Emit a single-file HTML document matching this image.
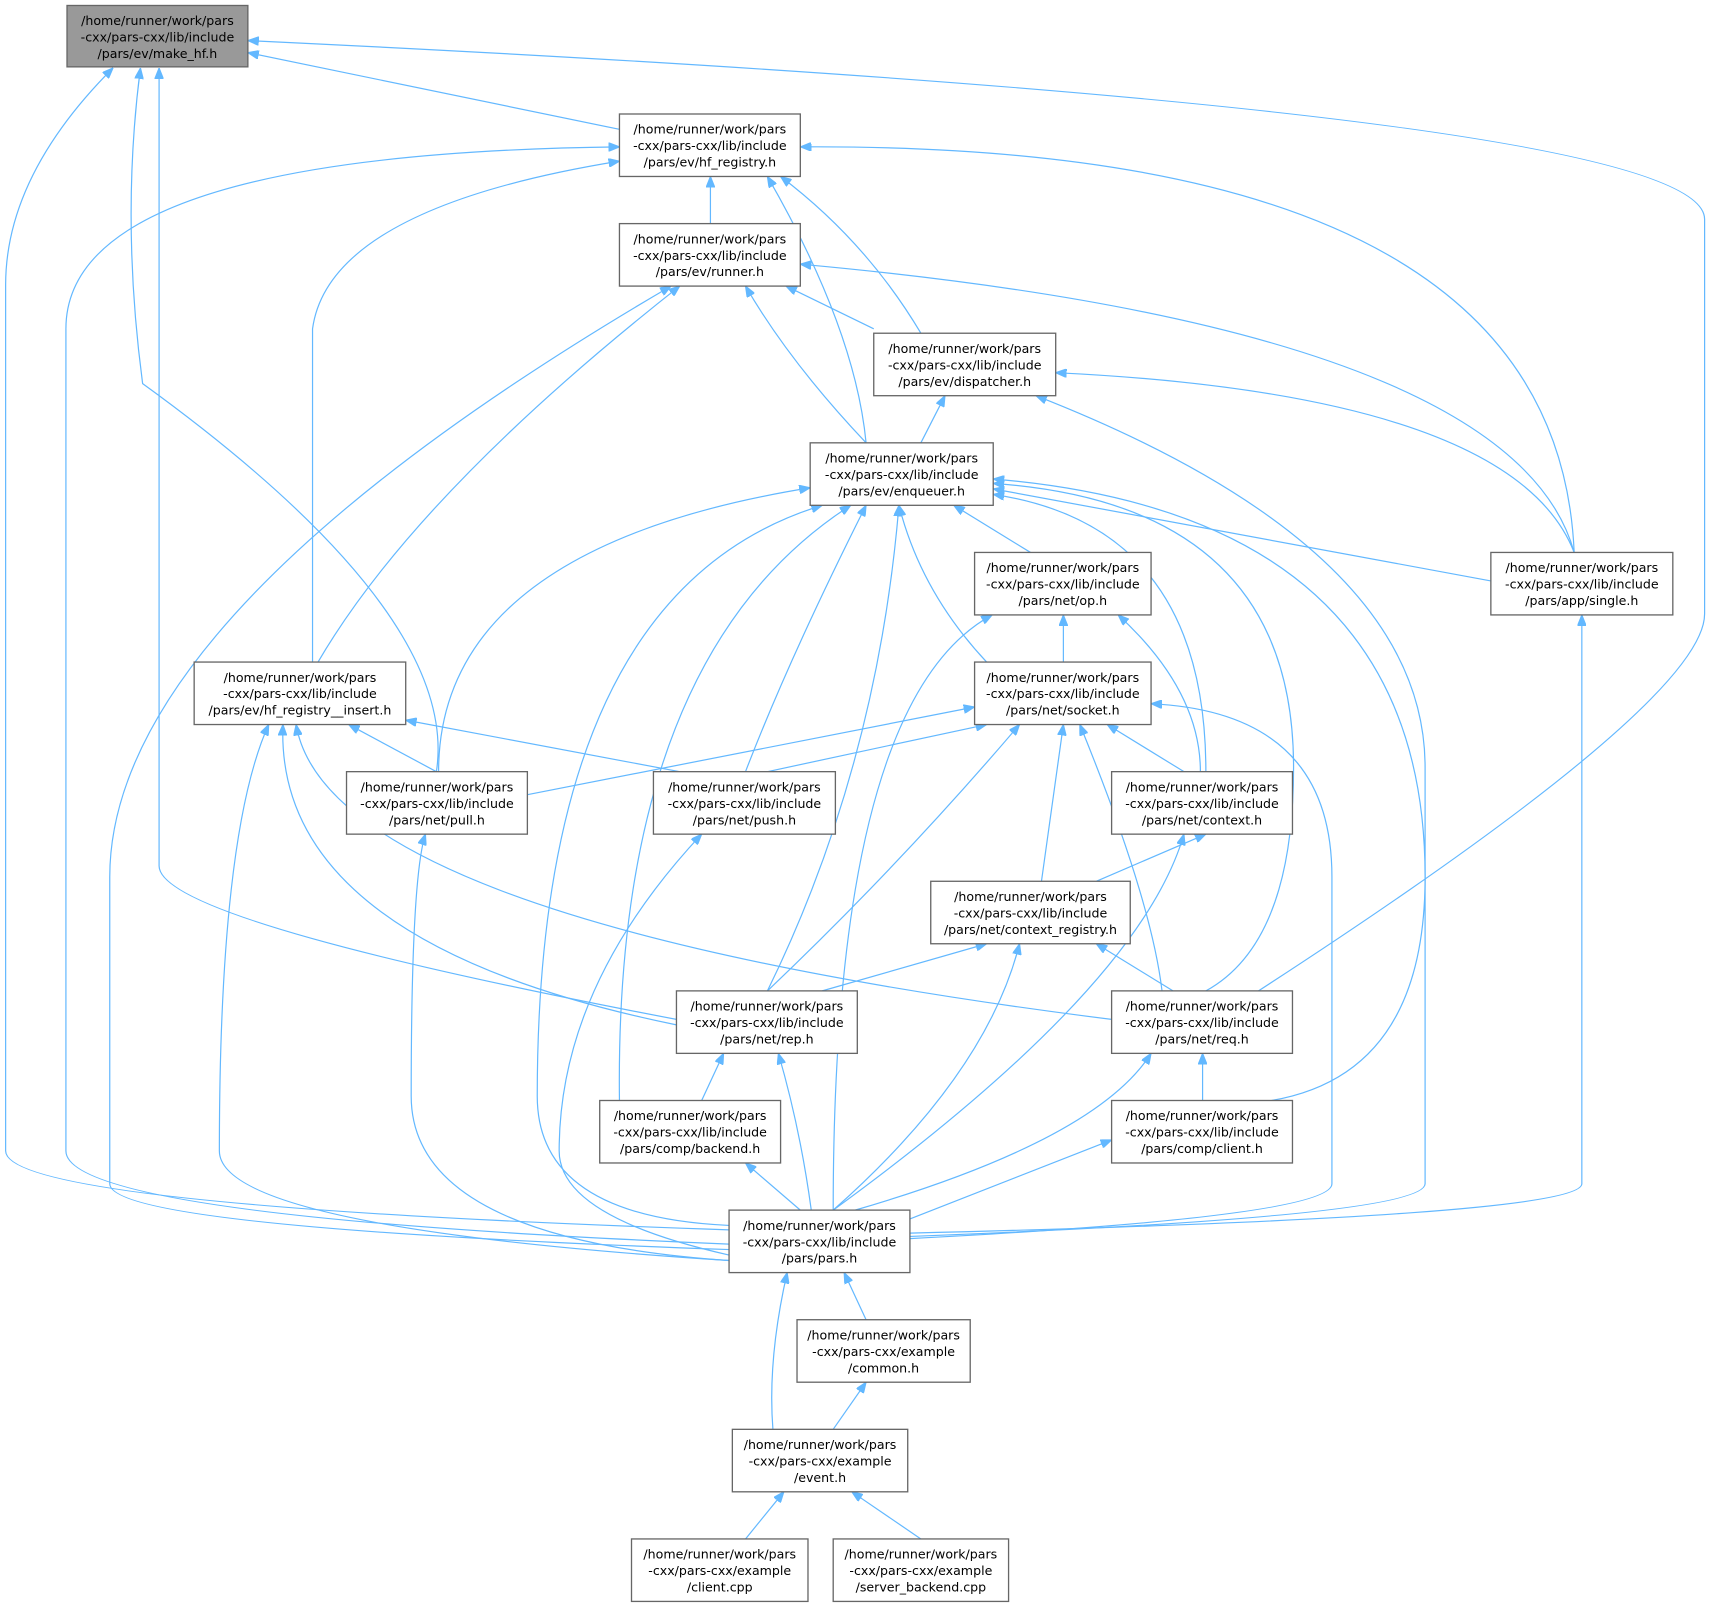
<!DOCTYPE html>
<html><head><meta charset="utf-8"><style>
html,body{margin:0;padding:0;background:#fff}
svg{display:block}
text{font-family:"DejaVu Sans","Liberation Sans",sans-serif;font-size:11.5px;fill:#000}
.b{fill:#fff;stroke:#666;stroke-width:1.2}
.e{fill:none;stroke:#63b8ff;stroke-width:1.1}
</style></head><body>
<svg width="1719" height="1608" viewBox="0 0 1568 1467" xmlns="http://www.w3.org/2000/svg">
<defs><marker id="a" viewBox="0 0 10 8" refX="0" refY="4" markerWidth="10" markerHeight="8" markerUnits="userSpaceOnUse" orient="auto"><path d="M10,0 L0,4 L10,8 z" fill="#63b8ff" stroke="#63b8ff"/></marker></defs>
<g marker-start="url(#a)">
<path class="e" marker-start="url(#a)" d="M226,48 L565,118"/>
<path class="e" marker-start="url(#a)" d="M226,37 Q1555,100 1555,200 L1555,560 Q1555,640 1148,904"/>
<path class="e" marker-start="url(#a)" d="M103,62 Q5,160 5,260 L5,1050 Q5,1100 665,1122"/>
<path class="e" marker-start="url(#a)" d="M128,62 Q110,200 130,350 Q420,560 398,704"/>
<path class="e" marker-start="url(#a)" d="M145,62 L145,790 Q145,840 617,930"/>
<path class="e" marker-start="url(#a)" d="M648,161 L648,204"/>
<path class="e" marker-start="url(#a)" d="M712,161 Q790,220 840,304"/>
<path class="e" marker-start="url(#a)" d="M700,161 Q780,300 790,404"/>
<path class="e" marker-start="url(#a)" d="M730,134 Q1420,130 1436,504"/>
<path class="e" marker-start="url(#a)" d="M565,134 Q60,140 60,300 L60,1050 Q60,1110 665,1135"/>
<path class="e" marker-start="url(#a)" d="M565,147 Q300,190 285,300 L285,604"/>
<path class="e" marker-start="url(#a)" d="M717,261 L797,300"/>
<path class="e" marker-start="url(#a)" d="M680,261 Q720,330 790,404"/>
<path class="e" marker-start="url(#a)" d="M730,241 Q1380,300 1436,504"/>
<path class="e" marker-start="url(#a)" d="M612,261 Q100,560 100,800 L100,1080 Q100,1120 665,1140"/>
<path class="e" marker-start="url(#a)" d="M620,261 Q380,450 290,604"/>
<path class="e" marker-start="url(#a)" d="M862,361 L840,404"/>
<path class="e" marker-start="url(#a)" d="M963,340 Q1380,360 1436,504"/>
<path class="e" marker-start="url(#a)" d="M945,361 Q1300,500 1300,700 L1300,1080 Q1300,1110 830,1128"/>
<path class="e" marker-start="url(#a)" d="M870,461 L940,504"/>
<path class="e" marker-start="url(#a)" d="M906,446 L1360,530"/>
<path class="e" marker-start="url(#a)" d="M820,461 Q840,540 900,604"/>
<path class="e" marker-start="url(#a)" d="M906,451 Q1100,480 1100,704"/>
<path class="e" marker-start="url(#a)" d="M906,441 Q1180,460 1180,700 Q1180,860 1100,904"/>
<path class="e" marker-start="url(#a)" d="M906,437 Q1300,470 1300,800 Q1300,980 1160,1004"/>
<path class="e" marker-start="url(#a)" d="M739,445 Q400,500 400,704"/>
<path class="e" marker-start="url(#a)" d="M790,461 Q720,600 680,704"/>
<path class="e" marker-start="url(#a)" d="M820,461 Q800,700 700,904"/>
<path class="e" marker-start="url(#a)" d="M776,461 Q560,600 565,1004"/>
<path class="e" marker-start="url(#a)" d="M750,461 Q490,540 490,1000 Q490,1110 665,1118"/>
<path class="e" marker-start="url(#a)" d="M970,561 L970,604"/>
<path class="e" marker-start="url(#a)" d="M1020,561 Q1095,630 1095,704"/>
<path class="e" marker-start="url(#a)" d="M905,561 Q760,640 760,1104"/>
<path class="e" marker-start="url(#a)" d="M1443,561 L1443,1080 Q1443,1110 830,1125"/>
<path class="e" marker-start="url(#a)" d="M318,661 L398,704"/>
<path class="e" marker-start="url(#a)" d="M370,657 L620,704"/>
<path class="e" marker-start="url(#a)" d="M270,661 Q300,840 1014,930"/>
<path class="e" marker-start="url(#a)" d="M258,661 Q250,860 617,935"/>
<path class="e" marker-start="url(#a)" d="M245,661 Q200,760 200,1050 Q200,1120 665,1150"/>
<path class="e" marker-start="url(#a)" d="M889,645 L481,725"/>
<path class="e" marker-start="url(#a)" d="M900,661 L700,704"/>
<path class="e" marker-start="url(#a)" d="M1010,661 L1080,704"/>
<path class="e" marker-start="url(#a)" d="M970,661 L950,804"/>
<path class="e" marker-start="url(#a)" d="M930,661 Q820,790 700,904"/>
<path class="e" marker-start="url(#a)" d="M985,661 Q1050,820 1060,904"/>
<path class="e" marker-start="url(#a)" d="M1050,642 Q1215,650 1215,800 L1215,1080 Q1215,1110 830,1130"/>
<path class="e" marker-start="url(#a)" d="M388,761 Q375,800 375,1000 Q375,1130 665,1150"/>
<path class="e" marker-start="url(#a)" d="M640,761 Q510,900 510,1050 Q510,1110 665,1145"/>
<path class="e" marker-start="url(#a)" d="M1100,761 L1000,804"/>
<path class="e" marker-start="url(#a)" d="M1080,761 Q1040,900 760,1104"/>
<path class="e" marker-start="url(#a)" d="M900,861 L750,904"/>
<path class="e" marker-start="url(#a)" d="M1000,861 L1070,904"/>
<path class="e" marker-start="url(#a)" d="M930,861 Q900,980 760,1104"/>
<path class="e" marker-start="url(#a)" d="M660,961 L640,1004"/>
<path class="e" marker-start="url(#a)" d="M710,961 Q730,1030 740,1104"/>
<path class="e" marker-start="url(#a)" d="M1097,961 L1097,1004"/>
<path class="e" marker-start="url(#a)" d="M1050,961 Q1000,1040 780,1104"/>
<path class="e" marker-start="url(#a)" d="M680,1061 L730,1104"/>
<path class="e" marker-start="url(#a)" d="M1014,1040 L830,1112"/>
<path class="e" marker-start="url(#a)" d="M770,1161 L790,1204"/>
<path class="e" marker-start="url(#a)" d="M718,1161 Q700,1240 705,1304"/>
<path class="e" marker-start="url(#a)" d="M790,1261 L760,1304"/>
<path class="e" marker-start="url(#a)" d="M715,1361 L680,1404"/>
<path class="e" marker-start="url(#a)" d="M777,1361 L840,1404"/>
</g>
<g>
<rect x="61" y="5" width="165" height="56" fill="#999" stroke="#666" stroke-width="1.2"/>
<text x="143.5" y="23" text-anchor="middle">/home/runner/work/pars</text><text x="143.5" y="38" text-anchor="middle">-cxx/pars-cxx/lib/include</text><text x="143.5" y="53" text-anchor="middle">/pars/ev/make_hf.h</text>
<rect class="b" x="565" y="104" width="165" height="57"/>
<text x="647.5" y="122" text-anchor="middle">/home/runner/work/pars</text><text x="647.5" y="137" text-anchor="middle">-cxx/pars-cxx/lib/include</text><text x="647.5" y="152" text-anchor="middle">/pars/ev/hf_registry.h</text>
<rect class="b" x="565" y="204" width="165" height="57"/>
<text x="647.5" y="222" text-anchor="middle">/home/runner/work/pars</text><text x="647.5" y="237" text-anchor="middle">-cxx/pars-cxx/lib/include</text><text x="647.5" y="252" text-anchor="middle">/pars/ev/runner.h</text>
<rect class="b" x="797" y="304" width="166" height="57"/>
<text x="880" y="322" text-anchor="middle">/home/runner/work/pars</text><text x="880" y="337" text-anchor="middle">-cxx/pars-cxx/lib/include</text><text x="880" y="352" text-anchor="middle">/pars/ev/dispatcher.h</text>
<rect class="b" x="739" y="404" width="167" height="57"/>
<text x="822.5" y="422" text-anchor="middle">/home/runner/work/pars</text><text x="822.5" y="437" text-anchor="middle">-cxx/pars-cxx/lib/include</text><text x="822.5" y="452" text-anchor="middle">/pars/ev/enqueuer.h</text>
<rect class="b" x="1360" y="504" width="166" height="57"/>
<text x="1443" y="522" text-anchor="middle">/home/runner/work/pars</text><text x="1443" y="537" text-anchor="middle">-cxx/pars-cxx/lib/include</text><text x="1443" y="552" text-anchor="middle">/pars/app/single.h</text>
<rect class="b" x="889" y="504" width="161" height="57"/>
<text x="969.5" y="522" text-anchor="middle">/home/runner/work/pars</text><text x="969.5" y="537" text-anchor="middle">-cxx/pars-cxx/lib/include</text><text x="969.5" y="552" text-anchor="middle">/pars/net/op.h</text>
<rect class="b" x="177" y="604" width="193" height="57"/>
<text x="273.5" y="622" text-anchor="middle">/home/runner/work/pars</text><text x="273.5" y="637" text-anchor="middle">-cxx/pars-cxx/lib/include</text><text x="273.5" y="652" text-anchor="middle">/pars/ev/hf_registry__insert.h</text>
<rect class="b" x="889" y="604" width="161" height="57"/>
<text x="969.5" y="622" text-anchor="middle">/home/runner/work/pars</text><text x="969.5" y="637" text-anchor="middle">-cxx/pars-cxx/lib/include</text><text x="969.5" y="652" text-anchor="middle">/pars/net/socket.h</text>
<rect class="b" x="316" y="704" width="165" height="57"/>
<text x="398.5" y="722" text-anchor="middle">/home/runner/work/pars</text><text x="398.5" y="737" text-anchor="middle">-cxx/pars-cxx/lib/include</text><text x="398.5" y="752" text-anchor="middle">/pars/net/pull.h</text>
<rect class="b" x="596" y="704" width="166" height="57"/>
<text x="679" y="722" text-anchor="middle">/home/runner/work/pars</text><text x="679" y="737" text-anchor="middle">-cxx/pars-cxx/lib/include</text><text x="679" y="752" text-anchor="middle">/pars/net/push.h</text>
<rect class="b" x="1014" y="704" width="165" height="57"/>
<text x="1096.5" y="722" text-anchor="middle">/home/runner/work/pars</text><text x="1096.5" y="737" text-anchor="middle">-cxx/pars-cxx/lib/include</text><text x="1096.5" y="752" text-anchor="middle">/pars/net/context.h</text>
<rect class="b" x="849" y="804" width="182" height="57"/>
<text x="940" y="822" text-anchor="middle">/home/runner/work/pars</text><text x="940" y="837" text-anchor="middle">-cxx/pars-cxx/lib/include</text><text x="940" y="852" text-anchor="middle">/pars/net/context_registry.h</text>
<rect class="b" x="617" y="904" width="165" height="57"/>
<text x="699.5" y="922" text-anchor="middle">/home/runner/work/pars</text><text x="699.5" y="937" text-anchor="middle">-cxx/pars-cxx/lib/include</text><text x="699.5" y="952" text-anchor="middle">/pars/net/rep.h</text>
<rect class="b" x="1014" y="904" width="165" height="57"/>
<text x="1096.5" y="922" text-anchor="middle">/home/runner/work/pars</text><text x="1096.5" y="937" text-anchor="middle">-cxx/pars-cxx/lib/include</text><text x="1096.5" y="952" text-anchor="middle">/pars/net/req.h</text>
<rect class="b" x="547" y="1004" width="165" height="57"/>
<text x="629.5" y="1022" text-anchor="middle">/home/runner/work/pars</text><text x="629.5" y="1037" text-anchor="middle">-cxx/pars-cxx/lib/include</text><text x="629.5" y="1052" text-anchor="middle">/pars/comp/backend.h</text>
<rect class="b" x="1014" y="1004" width="165" height="57"/>
<text x="1096.5" y="1022" text-anchor="middle">/home/runner/work/pars</text><text x="1096.5" y="1037" text-anchor="middle">-cxx/pars-cxx/lib/include</text><text x="1096.5" y="1052" text-anchor="middle">/pars/comp/client.h</text>
<rect class="b" x="665" y="1104" width="165" height="57"/>
<text x="747.5" y="1122" text-anchor="middle">/home/runner/work/pars</text><text x="747.5" y="1137" text-anchor="middle">-cxx/pars-cxx/lib/include</text><text x="747.5" y="1152" text-anchor="middle">/pars/pars.h</text>
<rect class="b" x="727" y="1204" width="158" height="57"/>
<text x="806" y="1222" text-anchor="middle">/home/runner/work/pars</text><text x="806" y="1237" text-anchor="middle">-cxx/pars-cxx/example</text><text x="806" y="1252" text-anchor="middle">/common.h</text>
<rect class="b" x="668" y="1304" width="160" height="57"/>
<text x="748" y="1322" text-anchor="middle">/home/runner/work/pars</text><text x="748" y="1337" text-anchor="middle">-cxx/pars-cxx/example</text><text x="748" y="1352" text-anchor="middle">/event.h</text>
<rect class="b" x="576" y="1404" width="161" height="57"/>
<text x="656.5" y="1422" text-anchor="middle">/home/runner/work/pars</text><text x="656.5" y="1437" text-anchor="middle">-cxx/pars-cxx/example</text><text x="656.5" y="1452" text-anchor="middle">/client.cpp</text>
<rect class="b" x="760" y="1404" width="160" height="57"/>
<text x="840" y="1422" text-anchor="middle">/home/runner/work/pars</text><text x="840" y="1437" text-anchor="middle">-cxx/pars-cxx/example</text><text x="840" y="1452" text-anchor="middle">/server_backend.cpp</text>
</g>
</svg>
</body></html>
